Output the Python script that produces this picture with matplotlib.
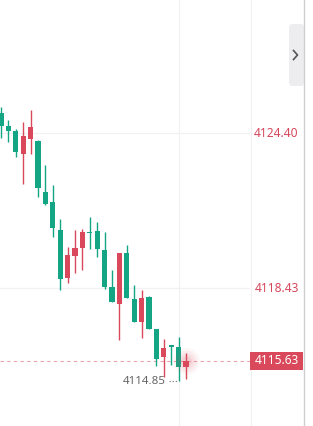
import matplotlib
matplotlib.use("Agg")
import matplotlib.pyplot as plt
import numpy as np
from matplotlib.patches import FancyBboxPatch
from matplotlib.lines import Line2D

# candle data (oldest -> newest)
opens = [4125.18, 4124.68, 4124.49, 4123.60, 4124.18, 4124.10, 4122.14, 4121.75,
         4120.68, 4118.83, 4119.67, 4119.98, 4120.60, 4120.64, 4119.90, 4118.48,
         4117.82, 4119.79, 4118.02, 4117.13, 4118.10, 4116.86, 4115.78, 4116.25,
         4116.17, 4115.40]
highs = [4125.41, 4124.91, 4124.57, 4124.84, 4125.30, 4124.14, 4123.18, 4122.41,
         4121.10, 4120.02, 4120.68, 4120.71, 4121.18, 4120.98, 4120.60, 4119.13,
         4119.79, 4120.10, 4118.56, 4118.36, 4118.13, 4116.86, 4116.48, 4116.25,
         4116.55, 4115.94]
lows = [4124.22, 4124.06, 4123.49, 4122.45, 4123.60, 4121.95, 4121.64, 4120.41,
        4118.36, 4118.63, 4119.02, 4119.13, 4119.94, 4119.63, 4118.40, 4117.90,
        4116.44, 4118.06, 4117.13, 4116.52, 4116.86, 4115.44, 4115.01, 4115.48,
        4114.85, 4114.94]
closes = [4124.68, 4124.49, 4123.68, 4124.30, 4124.64, 4122.29, 4121.68, 4120.75,
          4118.79, 4119.71, 4119.98, 4120.60, 4120.56, 4119.94, 4118.48, 4117.90,
          4119.79, 4118.06, 4117.13, 4118.06, 4116.86, 4115.71, 4116.13, 4116.17,
          4115.40, 4115.63]
price_ticks = [4124.40, 4118.43]
last_price = 4115.63
time_grid = [24]

UP = "#d9485b"      # red = up
DOWN = "#14a584"    # green = down
W, H = 313, 426

plt.rcParams["font.family"] = ["Noto Sans", "DejaVu Sans"]
fig = plt.figure(figsize=(W / 100, H / 100), dpi=100)
fig.patch.set_facecolor("white")

ax = fig.add_axes([0, 0, 250 / W, 1])
ax2 = fig.add_axes([250 / W, 0, 54 / W, 1], sharey=ax)
for a in (ax, ax2):
    a.set_facecolor("white")
    for s in a.spines.values():
        s.set_visible(False)
    a.tick_params(left=False, bottom=False, labelleft=False, labelbottom=False)

o = np.array(opens)
c = np.array(closes)
hi = np.array(highs)
lo = np.array(lows)
x = np.arange(len(o))
cols = np.where(c > o, UP, DOWN)

ax.set_xlim(-0.135, 33.65)
ax.set_ylim(4113.125, 4129.535)

# grid
for p in price_ticks:
    ax.axhline(p, color="#f1f1f3", lw=0.9, zorder=0)
for t in time_grid:
    ax.axvline(t, color="#f1f1f3", lw=0.9, zorder=0)

ax.vlines(x, lo, hi, colors=cols, lw=1.0, zorder=2)
body_lo = np.minimum(o, c)
body_h = np.maximum(np.abs(c - o), 0.05)
ax.bar(x, body_h, bottom=body_lo, width=0.7, color=cols, lw=0, zorder=3)

# last price dashed line + glow
ax.axhline(last_price, color="#e9a3ad", lw=0.8, ls=(0, (3, 3)), zorder=1)
for s, a in [(380, 0.04), (240, 0.06), (130, 0.08), (60, 0.1)]:
    ax.scatter([x[-1]], [last_price], s=s, color=UP, alpha=a, lw=0, zorder=4)

# lowest low marker
li = int(np.argmin(lo))
ax.text(li - 1.7, lo[li], f"{lo[li]:.2f}", ha="right", va="center",
        fontsize=8.3, color="#666666")
ax.plot([li - 1.25, li - 0.15], [lo[li], lo[li]], color="#888888", lw=0.9,
        ls=(0, (1, 1.5)))

# price scale
ax2.set_xlim(0, 1)
ax2.axvline(0.01, color="#f0f0f0", lw=0.8, zorder=0)
for p in price_ticks:
    ax2.text(0.49, p, f"{p:.2f}", ha="center", va="center", fontsize=8.6,
             color="#d6475c")
ax2.axhspan(last_price - 0.33, last_price + 0.33, xmin=0, xmax=0.985,
            color=UP, lw=0, zorder=2)
ax2.text(0.49, last_price, f"{last_price:.2f}", ha="center", va="center",
         fontsize=8.6, color="white", zorder=3)

# panel border
fig.add_artist(Line2D([304 / W] * 2, [0, 1], color="#cfcfcf", lw=1.0))

# collapse button
btn = FancyBboxPatch((289 / W, 1 - 86 / H), 15 / W, 62 / H,
                     boxstyle="round,pad=0,rounding_size=0.01",
                     transform=fig.transFigure, facecolor="#ededf0",
                     edgecolor="none")
fig.add_artist(btn)
fig.add_artist(Line2D([293.5 / W, 297.5 / W, 293.5 / W],
                      [1 - 50.5 / H, 1 - 55 / H, 1 - 59.5 / H],
                      color="#555555", lw=1.2))

fig.savefig("out.png", dpi=100, facecolor="white")
